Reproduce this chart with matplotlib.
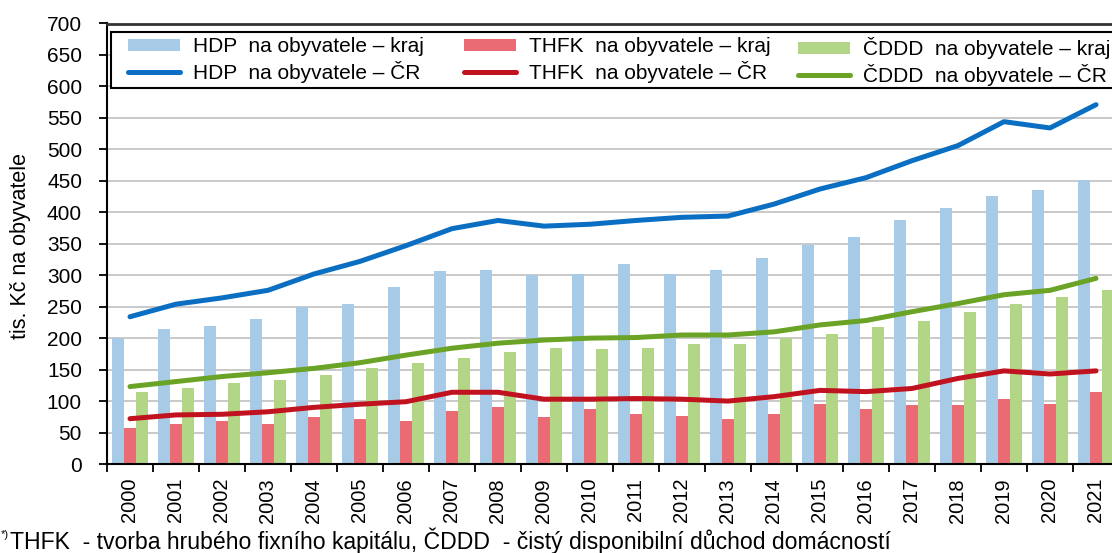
import numpy as np
import matplotlib.pyplot as plt
from matplotlib.patches import Rectangle
from matplotlib.lines import Line2D

# data (tis. Kč na obyvatele)
years = ['2000', '2001', '2002', '2003', '2004', '2005', '2006', '2007', '2008', '2009', '2010',
         '2011', '2012', '2013', '2014', '2015', '2016', '2017', '2018', '2019', '2020', '2021']
hdp_kraj = [200, 214, 220, 230, 250, 255, 281, 306, 309, 300, 302, 318, 302, 309, 328, 348, 360, 388, 407, 426, 436, 451]
thfk_kraj = [58, 64, 68, 64, 74, 71, 68, 84, 90, 74, 87, 80, 77, 71, 80, 96, 87, 93, 93, 103, 96, 115]
cddd_kraj = [115, 121, 128, 134, 141, 153, 160, 169, 178, 185, 182, 185, 191, 191, 200, 207, 217, 227, 242, 255, 265, 277]
hdp_cr = [234, 254, 264, 276, 302, 322, 347, 374, 387, 378, 381, 387, 392, 394, 413, 437, 455, 482, 506, 544, 534, 571]
thfk_cr = [72, 78, 79, 83, 90, 95, 99, 114, 114, 103, 103, 104, 103, 100, 107, 117, 115, 120, 136, 148, 143, 148]
cddd_cr = [123, 131, 139, 145, 152, 161, 173, 184, 192, 197, 200, 201, 205, 205, 210, 221, 228, 242, 255, 269, 276, 295]

labels = [('HDP  na obyvatele – kraj', 'HDP  na obyvatele – ČR'),
          ('THFK  na obyvatele – kraj', 'THFK  na obyvatele – ČR'),
          ('ČDDD  na obyvatele – kraj', 'ČDDD  na obyvatele – ČR')]

c_bar = ['#a7cbe7', '#eb6b74', '#b3d686']
c_line = ['#0a6fc2', '#c1121f', '#6aa326']

plt.rcParams['font.family'] = ['Liberation Sans', 'DejaVu Sans']

W, H = 1112, 553
fig = plt.figure(figsize=(W / 100, H / 100), dpi=100)
ax = fig.add_axes([107 / W, 89 / H, 1012 / W, 440.5 / H])

x = np.arange(len(years))
bw = 0.254
ax.bar(x - bw, hdp_kraj, bw, color=c_bar[0], zorder=2)
ax.bar(x, thfk_kraj, bw, color=c_bar[1], zorder=2)
ax.bar(x + bw, cddd_kraj, bw, color=c_bar[2], zorder=2)

for vals, c in zip([hdp_cr, thfk_cr, cddd_cr], c_line):
    ax.plot(x, vals, color=c, lw=3.6, zorder=3, solid_joinstyle='round', solid_capstyle='round')

ax.set_xlim(-0.5, len(years) - 0.5)
ax.set_ylim(0, 700)
ax.set_yticks(range(0, 701, 50))
ax.tick_params(axis='y', labelsize=15, length=6, width=1.3, pad=12, direction='out')
ax.yaxis.grid(True, color='#c0c0c0', lw=1.2, zorder=0)
ax.set_axisbelow(True)

ax.set_xticks(x)
ax.set_xticklabels(years, rotation=90, fontsize=14.5)
ax.tick_params(axis='x', length=0, pad=10)
ax.set_xticks(np.arange(-0.5, len(years), 1), minor=True)
ax.tick_params(axis='x', which='minor', length=6, width=1.3, direction='out')

for s in ['left', 'bottom']:
    ax.spines[s].set_linewidth(1.5)
    ax.spines[s].set_color('black')
ax.spines['top'].set_linewidth(2)
ax.spines['top'].set_color('#333333')
ax.spines['right'].set_visible(False)

# legend box, one legend per column so the columns sit where the reference has them
fig.patches.append(Rectangle((111 / W, 1 - 88 / H), (1125 - 111) / W, 56 / H,
                             transform=fig.transFigure, facecolor='white',
                             edgecolor='black', lw=1.5, zorder=5))
col_x = [128, 464, 798]
for i in range(3):
    hs = [Rectangle((0, 0), 1, 1, facecolor=c_bar[i], edgecolor='none'),
          Line2D([0], [0], color=c_line[i], lw=3.6, solid_capstyle='round')]
    leg = fig.legend(hs, labels[i], loc='upper left',
                     bbox_to_anchor=(col_x[i] / W, 1 - 37 / H), bbox_transform=fig.transFigure,
                     frameon=False, fontsize=15, borderpad=0, borderaxespad=0,
                     handlelength=2.5, handleheight=0.5, handletextpad=0.62,
                     labelspacing=0.22)
    leg.set_zorder(6)

fig.text(21 / W, 1 - 246 / H, 'tis. Kč na obyvatele', rotation=90, fontsize=15.5,
         ha='center', va='center')

fig.text(1 / W, 1 - 535 / H, '*)', fontsize=8, ha='left', va='center')
fig.text(10 / W, 1 - 541 / H,
         'THFK  - tvorba hrubého fixního kapitálu, ČDDD  - čistý disponibilní důchod domácností',
         fontsize=16.6, ha='left', va='center')

fig.savefig('out.png', dpi=100)
